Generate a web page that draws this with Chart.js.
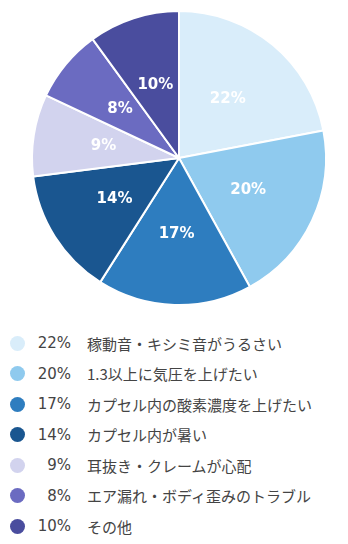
<!DOCTYPE html>
<html>
<head>
<meta charset="utf-8">
<script src="https://cdn.jsdelivr.net/npm/chart.js@4"></script>
<style>
  body { margin: 0; background: #fff; width: 348px; height: 544px; overflow: hidden; }
  #wrap { position: relative; width: 348px; height: 320px; }
  #legend { list-style: none; margin: 0; padding: 0; position: absolute; top: 328px; left: 0; width: 348px; }
  #legend li { height: 30.5px; display: flex; align-items: center; font-size: 15px; color: #444; }
  #legend .dot { width: 15px; height: 15px; border-radius: 50%; margin-left: 10px; }
  #legend .pct { width: 46px; text-align: right; font-family: "DejaVu Sans", Verdana, sans-serif; font-size: 15px; }
  #legend .txt { margin-left: 16px; font-family: "Noto Sans CJK JP", sans-serif; font-size: 15px; }
</style>
</head>
<body>
<div id="wrap"><canvas id="myChart"></canvas></div>
<ul id="legend"></ul>
<script>
const labels = [
  "稼動音・キシミ音がうるさい",
  "1.3以上に気圧を上げたい",
  "カプセル内の酸素濃度を上げたい",
  "カプセル内が暑い",
  "耳抜き・クレームが心配",
  "エア漏れ・ボディ歪みのトラブル",
  "その他"
];
const values = [22, 20, 17, 14, 9, 8, 10];
const colors = ["#d9edfa", "#8fcaee", "#2e7dbf", "#1a5690", "#d2d3ee", "#6b6bc1", "#4a4d9e"];

const pctLabels = {
  id: "pctLabels",
  afterDatasetsDraw(chart) {
    const ctx = chart.ctx;
    const meta = chart.getDatasetMeta(0);
    ctx.save();
    ctx.font = "bold 15px 'DejaVu Sans', Verdana, sans-serif";
    ctx.fillStyle = "#fff";
    ctx.textAlign = "center";
    ctx.textBaseline = "middle";
    meta.data.forEach((arc, i) => {
      const p = arc.getProps(["x", "y", "startAngle", "endAngle", "outerRadius"], true);
      const a = (p.startAngle + p.endAngle) / 2;
      const r = p.outerRadius * 0.52;
      ctx.fillText(values[i] + "%", p.x + Math.cos(a) * r, p.y + Math.sin(a) * r);
    });
    ctx.restore();
  }
};

function chartJs() {
  const ctx = document.getElementById("myChart");
  new Chart(ctx, {
    type: "pie",
    data: {
      labels: labels,
      datasets: [{
        data: values,
        backgroundColor: colors,
        borderColor: "#fff",
        borderWidth: 2
      }]
    },
    options: {
      responsive: true,
      maintainAspectRatio: false,
      animation: false,
      layout: { padding: { top: 10, bottom: 14, left: 31, right: 21 } },
      plugins: { legend: { display: false }, tooltip: { enabled: false } }
    },
    plugins: [pctLabels]
  });
}

function legendHtml() {
  const ul = document.getElementById("legend");
  labels.forEach((lab, i) => {
    const li = document.createElement("li");
    li.innerHTML = '<span class="dot" style="background:' + colors[i] + '"></span>' +
      '<span class="pct">' + values[i] + '%</span>' +
      '<span class="txt">' + lab + '</span>';
    ul.appendChild(li);
  });
}

chartJs();
legendHtml();
</script>
</body>
</html>
